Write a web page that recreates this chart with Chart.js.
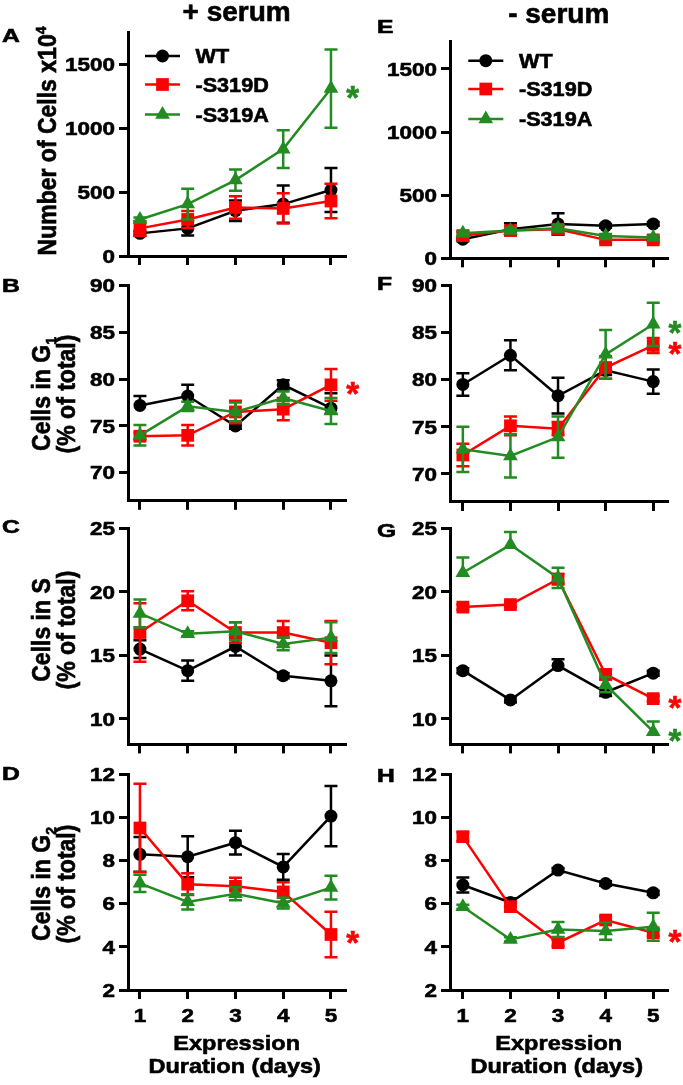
<!DOCTYPE html>
<html>
<head>
<meta charset="utf-8">
<script src="https://cdn.jsdelivr.net/npm/chart.js@4.4.0/dist/chart.umd.min.js"></script>
<style>
html,body{margin:0;padding:0;background:#fff;}
#wrap{position:relative;width:683px;height:1085px;overflow:hidden;background:#fff;}
canvas{position:absolute;left:0;top:0;}
</style>
</head>
<body>
<div id="wrap">
<canvas id="pA" width="683" height="1085"></canvas>
<canvas id="pB" width="683" height="1085"></canvas>
<canvas id="pC" width="683" height="1085"></canvas>
<canvas id="pD" width="683" height="1085"></canvas>
<canvas id="pE" width="683" height="1085"></canvas>
<canvas id="pF" width="683" height="1085"></canvas>
<canvas id="pG" width="683" height="1085"></canvas>
<canvas id="pH" width="683" height="1085"></canvas>
</div>
<script>
// ---------------- DATA ----------------
const days = [1, 2, 3, 4, 5];
const seriesNames = ['WT', '-S319D', '-S319A'];

// tick labels
const ticksCells = [0, 500, 1000, 1500];
const ticksG1 = [70, 75, 80, 85, 90];
const ticksS = [10, 15, 20, 25];
const ticksG2 = [2, 4, 6, 8, 10, 12];

// A: + serum, number of cells (x10^4)
const cellsPlusWT = [177, 216, 354, 406, 516];
const cellsPlusWTErr = [20, 55, 80, 145, 172];
const cellsPlusD = [216, 286, 380, 372, 430];
const cellsPlusDErr = [57, 66, 88, 118, 135];
const cellsPlusA = [286, 406, 594, 836, 1310];
const cellsPlusAErr = [15, 120, 83, 148, 306];

// E: - serum, number of cells (x10^4)
const cellsMinusWT = [151, 230, 272, 257, 272];
const cellsMinusWTErr = [15, 48, 85, 15, 15];
const cellsMinusD = [180, 220, 230, 146, 146];
const cellsMinusDErr = [30, 25, 30, 20, 20];
const cellsMinusA = [198, 220, 238, 177, 164];
const cellsMinusAErr = [15, 20, 25, 15, 15];

// B: + serum, % cells in G1   (error: number = symmetric, [low, high] = asymmetric)
const g1PlusWT = [77.2, 78.2, 75.0, 79.4, 76.9];
const g1PlusWTErr = [[0, 1.0], [0, 1.2], 0.3, 0.5, [0.6, 1.6]];
const g1PlusD = [73.9, 74.0, 76.5, 76.8, 79.4];
const g1PlusDErr = [0.4, 1.1, 1.2, 1.2, 1.7];
const g1PlusA = [74.0, 77.1, 76.5, 78.0, 76.6];
const g1PlusAErr = [1.1, 0.5, 1.0, 0.7, 1.4];

// F: - serum, % cells in G1
const g1MinusWT = [79.5, 82.6, 78.3, 81.0, 79.8];
const g1MinusWTErr = [1.2, 1.6, 1.9, 0.5, 1.3];
const g1MinusD = [72.0, 75.1, 74.8, 81.3, 83.65];
const g1MinusDErr = [1.2, 1.0, 0.7, 1.2, 0.8];
const g1MinusA = [72.6, 71.9, 73.9, 82.7, 85.9];
const g1MinusAErr = [2.4, 2.3, 2.2, 2.6, 2.3];

// C: + serum, % cells in S
const sPlusWT = [15.5, 13.8, 15.7, 13.4, 13.0];
const sPlusWTErr = [0.7, 0.8, 0.7, 0.2, 2.0];
const sPlusD = [16.8, 19.3, 16.8, 16.8, 16.0];
const sPlusDErr = [2.3, 0.75, 0.8, 0.9, 1.7];
const sPlusA = [18.3, 16.7, 16.9, 15.9, 16.4];
const sPlusAErr = [1.1, 0.2, 0.7, 0.5, 1.2];

// G: - serum, % cells in S
const sMinusWT = [13.8, 11.5, 14.2, 12.1, 13.6];
const sMinusWTErr = [0.2, 0.2, [0, 0.5], 0.3, 0.2];
const sMinusD = [18.8, 19.0, 21.0, 13.5, 11.6];
const sMinusDErr = [0.2, 0.2, 0.4, 0.4, 0.2];
const sMinusA = [21.5, 23.7, 21.1, 12.7, 9.0];
const sMinusAErr = [[0, 1.2], [0, 1.0], 0.8, 0.6, [0, 0.8]];

// D: + serum, % cells in G2
const g2PlusWT = [8.28, 8.17, 8.82, 7.70, 10.05];
const g2PlusWTErr = [0.8, 0.95, 0.55, 0.6, 1.4];
const g2PlusD = [9.5, 6.9, 6.8, 6.54, 4.57];
const g2PlusDErr = [2.05, 0.5, 0.4, 0.45, 1.05];
const g2PlusA = [6.94, 6.08, 6.46, 6.02, 6.74];
const g2PlusAErr = [0.4, 0.35, 0.3, 0.25, 0.55];

// H: - serum, % cells in G2
const g2MinusWT = [6.86, 6.05, 7.55, 6.93, 6.5];
const g2MinusWTErr = [0.35, 0.2, 0.1, 0.1, 0.1];
const g2MinusD = [9.1, 5.86, 4.19, 5.24, 4.65];
const g2MinusDErr = [0.2, 0.2, 0.15, 0.15, 0.15];
const g2MinusA = [5.85, 4.34, 4.8, 4.73, 4.93];
const g2MinusAErr = [0.1, 0.1, 0.35, 0.4, 0.65];

// ---------------- STYLE ----------------
const COLORS = ['#000000', '#ff0000', '#228b22'];
const MARKERS = [
  {pointStyle: 'circle', radius: 6.5},
  {pointStyle: 'rect', radius: 9},
  {pointStyle: 'triangle', radius: 8.5}
];
const FONT_FAMILY = '"Liberation Sans", Arial, Helvetica, sans-serif';
const font = s => 'bold ' + s + 'px ' + FONT_FAMILY;
const TICK = 19;

function drawStr(ctx, text, x, y, size, align, sx) {
  ctx.font = font(size);
  const w = ctx.measureText(text).width * sx;
  const x0 = align === 'right' ? x - w : (align === 'center' ? x - w / 2 : x);
  ctx.save();
  ctx.translate(x0, y);
  ctx.scale(sx, 1);
  ctx.fillText(text, 0, 0);
  ctx.strokeStyle = ctx.fillStyle;
  ctx.lineWidth = 0.6;
  ctx.strokeText(text, 0, 0);
  ctx.restore();
}

function drawRotRich(ctx, parts, bx, cy, sx) {
  let w = 0;
  const ws = parts.map(p => { ctx.font = font(p.size); const m = ctx.measureText(p.t).width; w += m; return m; });
  ctx.save();
  ctx.translate(bx, cy);
  ctx.scale(sx, 1);
  ctx.rotate(-Math.PI / 2);
  ctx.strokeStyle = ctx.fillStyle;
  ctx.lineWidth = 0.6;
  let u = -w / 2;
  parts.forEach((p, i) => {
    ctx.font = font(p.size);
    ctx.fillText(p.t, u, p.dy || 0);
    ctx.strokeText(p.t, u, p.dy || 0);
    u += ws[i];
  });
  ctx.restore();
}

function drawMarker(ctx, style, radius, x, y) {
  if (Chart.helpers && Chart.helpers.drawPoint) {
    Chart.helpers.drawPoint(ctx, {pointStyle: style, radius: radius, rotation: 0, borderWidth: 0}, x, y);
    return;
  }
  ctx.beginPath();
  if (style === 'circle') ctx.arc(x, y, radius, 0, Math.PI * 2);
  else if (style === 'rect') { const s = radius * Math.SQRT1_2; ctx.rect(x - s, y - s, 2 * s, 2 * s); }
  else {
    ctx.moveTo(x, y - radius);
    ctx.lineTo(x + radius * Math.sin(2 * Math.PI / 3), y - radius * Math.cos(2 * Math.PI / 3));
    ctx.lineTo(x + radius * Math.sin(4 * Math.PI / 3), y - radius * Math.cos(4 * Math.PI / 3));
    ctx.closePath();
  }
  ctx.fill();
}

// error bars drawn under each dataset's line/markers, positioned through the chart scales
const errorBars = {
  id: 'errorBars',
  beforeDatasetDraw(chart, args) {
    const ds = chart.data.datasets[args.index];
    if (!ds.err) return;
    const ctx = chart.ctx, xs = chart.scales.x, ys = chart.scales.y;
    ctx.save();
    ctx.strokeStyle = ds.borderColor;
    ctx.lineWidth = 2.5;
    ctx.lineCap = 'butt';
    ds.data.forEach((p, i) => {
      const e = ds.err[i];
      if (e == null) return;
      const lo = Array.isArray(e) ? e[0] : e, hi = Array.isArray(e) ? e[1] : e;
      const x = xs.getPixelForValue(p.x), yc = ys.getPixelForValue(p.y);
      ctx.beginPath();
      if (hi > 0) {
        const y1 = ys.getPixelForValue(p.y + hi);
        ctx.moveTo(x, yc); ctx.lineTo(x, y1);
        ctx.moveTo(x - 6.5, y1); ctx.lineTo(x + 6.5, y1);
      }
      if (lo > 0) {
        const y0 = ys.getPixelForValue(p.y - lo);
        ctx.moveTo(x, yc); ctx.lineTo(x, y0);
        ctx.moveTo(x - 6.5, y0); ctx.lineTo(x + 6.5, y0);
      }
      ctx.stroke();
    });
    ctx.restore();
  }
};

function makeDecor(p) {
  return {
    id: 'decor' + p.canvas,
    afterDraw(chart) {
      const ctx = chart.ctx, xs = chart.scales.x, ys = chart.scales.y, ca = chart.chartArea;
      ctx.save();
      ctx.fillStyle = '#000';
      ctx.textBaseline = 'alphabetic';
      // y tick labels
      ys.ticks.forEach(t => {
        const y = ys.getPixelForValue(t.value);
        drawStr(ctx, String(t.value), ca.left - 13, y + 0.355 * TICK, TICK, 'right', 1.18);
      });
      // x tick labels and x title
      if (p.xLabels) {
        xs.ticks.forEach(t => {
          const x = xs.getPixelForValue(t.value);
          drawStr(ctx, String(t.value), x, ca.bottom + 32, TICK, 'center', 1.18);
        });
        drawStr(ctx, 'Expression', (ca.left + ca.right) / 2, 1050, 21, 'center', 1.12);
        drawStr(ctx, 'Duration (days)', (ca.left + ca.right) / 2 - 2, 1073.3, 21, 'center', 1.12);
      }
      // y title
      if (p.ytitle) p.ytitle.forEach((line, i) => drawRotRich(ctx, line, p.ytitleX[i], p.ytitleY, 1.1));
      // panel letter
      drawStr(ctx, p.letter, p.letterX, p.letterY, 19, 'left', 1.3);
      // column title
      if (p.colTitle) drawStr(ctx, p.colTitle, (ca.left + ca.right) / 2, p.colTitleY, 28, 'center', 1.0);
      // significance stars next to last points
      (p.stars || []).forEach(k => {
        const ds = chart.data.datasets[k];
        const last = ds.data[ds.data.length - 1];
        const y = ys.getPixelForValue(last.y);
        ctx.fillStyle = COLORS[k];
        drawStr(ctx, '*', ca.right + 1, y + 1.5 + 0.56 * 33, 33, 'left', 1.0);
      });
      // legend
      if (p.legend) {
        const L = p.legend;
        chart.data.datasets.forEach((ds, k) => {
          const y = L.rows[k];
          ctx.strokeStyle = COLORS[k];
          ctx.fillStyle = COLORS[k];
          ctx.lineWidth = 2.5;
          ctx.beginPath(); ctx.moveTo(L.x1, y); ctx.lineTo(L.x2, y); ctx.stroke();
          drawMarker(ctx, MARKERS[k].pointStyle, MARKERS[k].radius, (L.x1 + L.x2) / 2, y);
          ctx.fillStyle = '#000';
          drawStr(ctx, ds.label, L.tx, y + 7, 20, 'left', 1.08);
        });
      }
      ctx.restore();
    }
  };
}

function makePanel(p) {
  const datasets = p.series.map((vals, k) => ({
    label: seriesNames[k],
    data: days.map((d, i) => ({x: d, y: vals[i]})),
    err: p.errs[k],
    borderColor: COLORS[k],
    backgroundColor: COLORS[k],
    pointBackgroundColor: COLORS[k],
    pointBorderColor: COLORS[k],
    pointStyle: MARKERS[k].pointStyle,
    pointRadius: MARKERS[k].radius,
    pointBorderWidth: 0,
    borderWidth: 2.5,
    tension: 0,
    order: 3 - k,
    clip: false
  }));
  const axisCommon = {
    ticks: {display: false},
    grid: {drawOnChartArea: false, drawTicks: true, tickLength: 9, color: '#000', lineWidth: 3},
    border: {display: true, color: '#000', width: 3}
  };
  new Chart(document.getElementById(p.canvas), {
    type: 'line',
    data: {datasets},
    options: {
      responsive: false,
      animation: false,
      devicePixelRatio: 1,
      events: [],
      layout: {padding: {left: p.left - 60, top: p.top, right: 683 - p.right, bottom: 1085 - p.bottom - 40}},
      scales: {
        x: Object.assign({}, axisCommon, {
          type: 'linear', min: p.xmin, max: p.xmax,
          afterBuildTicks: s => { s.ticks = days.map(v => ({value: v})); },
          afterFit: s => { s.height = 40; }
        }),
        y: Object.assign({}, axisCommon, {
          type: 'linear', min: p.ymin, max: p.ymax,
          afterBuildTicks: s => { s.ticks = p.yticks.map(v => ({value: v})); },
          afterFit: s => { s.width = 60; }
        })
      },
      plugins: {legend: {display: false}, tooltip: {enabled: false}}
    },
    plugins: [errorBars, makeDecor(p)]
  });
}

const L_LEFT = 128, L_RIGHT = 345.3, R_LEFT = 450, R_RIGHT = 667.5;
const subTitle = (main, sub) => [[{t: main, size: 23}, {t: sub, size: 14, dy: 5}], [{t: '(% of total)', size: 23}]];

makePanel({canvas: 'pA', left: L_LEFT, right: L_RIGHT, top: 32.3, bottom: 256, xmin: 0.75, xmax: 5.3,
  ymin: 0, ymax: 1750, yticks: ticksCells,
  series: [cellsPlusWT, cellsPlusD, cellsPlusA], errs: [cellsPlusWTErr, cellsPlusDErr, cellsPlusAErr],
  letter: 'A', letterX: 2, letterY: 41.7, colTitle: '+ serum', colTitleY: 21,
  ytitle: [[{t: 'Number of Cells x10', size: 23}, {t: '4', size: 14, dy: -9}]], ytitleX: [56], ytitleY: 141,
  stars: [2], legend: {x1: 145, x2: 180, tx: 195.5, rows: [56, 84.5, 114.5]}});

makePanel({canvas: 'pE', left: R_LEFT, right: R_RIGHT, top: 41.2, bottom: 258.3, xmin: 0.73, xmax: 5.3,
  ymin: 0, ymax: 1720, yticks: ticksCells,
  series: [cellsMinusWT, cellsMinusD, cellsMinusA], errs: [cellsMinusWTErr, cellsMinusDErr, cellsMinusAErr],
  letter: 'E', letterX: 377, letterY: 33.3, colTitle: '- serum', colTitleY: 23,
  stars: [], legend: {x1: 468.3, x2: 503.3, tx: 519, rows: [60.7, 89, 119]}});

makePanel({canvas: 'pB', left: L_LEFT, right: L_RIGHT, top: 285.7, bottom: 500.8, xmin: 0.75, xmax: 5.3,
  ymin: 67, ymax: 90, yticks: ticksG1,
  series: [g1PlusWT, g1PlusD, g1PlusA], errs: [g1PlusWTErr, g1PlusDErr, g1PlusAErr],
  letter: 'B', letterX: 2, letterY: 291.7,
  ytitle: subTitle('Cells in G', '1'), ytitleX: [50, 75], ytitleY: 394, stars: [1]});

makePanel({canvas: 'pF', left: R_LEFT, right: R_RIGHT, top: 285.7, bottom: 502, xmin: 0.73, xmax: 5.3,
  ymin: 67, ymax: 90, yticks: ticksG1,
  series: [g1MinusWT, g1MinusD, g1MinusA], errs: [g1MinusWTErr, g1MinusDErr, g1MinusAErr],
  letter: 'F', letterX: 377, letterY: 290, stars: [2, 1]});

makePanel({canvas: 'pC', left: L_LEFT, right: L_RIGHT, top: 528.3, bottom: 744.4, xmin: 0.75, xmax: 5.3,
  ymin: 8, ymax: 25, yticks: ticksS,
  series: [sPlusWT, sPlusD, sPlusA], errs: [sPlusWTErr, sPlusDErr, sPlusAErr],
  letter: 'C', letterX: 2, letterY: 532.7,
  ytitle: [[{t: 'Cells in S', size: 23}], [{t: '(% of total)', size: 23}]], ytitleX: [50, 75], ytitleY: 630, stars: []});

makePanel({canvas: 'pG', left: R_LEFT, right: R_RIGHT, top: 528.3, bottom: 744.4, xmin: 0.73, xmax: 5.3,
  ymin: 8, ymax: 25, yticks: ticksS,
  series: [sMinusWT, sMinusD, sMinusA], errs: [sMinusWTErr, sMinusDErr, sMinusAErr],
  letter: 'G', letterX: 377, letterY: 536.7, stars: [1, 2]});

makePanel({canvas: 'pD', left: L_LEFT, right: L_RIGHT, top: 774, bottom: 990, xmin: 0.75, xmax: 5.3,
  ymin: 2, ymax: 12, yticks: ticksG2,
  series: [g2PlusWT, g2PlusD, g2PlusA], errs: [g2PlusWTErr, g2PlusDErr, g2PlusAErr],
  letter: 'D', letterX: 2, letterY: 780,
  ytitle: subTitle('Cells in G', '2'), ytitleX: [50, 75], ytitleY: 884, stars: [1], xLabels: true});

makePanel({canvas: 'pH', left: R_LEFT, right: R_RIGHT, top: 774, bottom: 990, xmin: 0.73, xmax: 5.3,
  ymin: 2, ymax: 12, yticks: ticksG2,
  series: [g2MinusWT, g2MinusD, g2MinusA], errs: [g2MinusWTErr, g2MinusDErr, g2MinusAErr],
  letter: 'H', letterX: 377, letterY: 781.7, stars: [1], xLabels: true});
</script>
</body>
</html>
